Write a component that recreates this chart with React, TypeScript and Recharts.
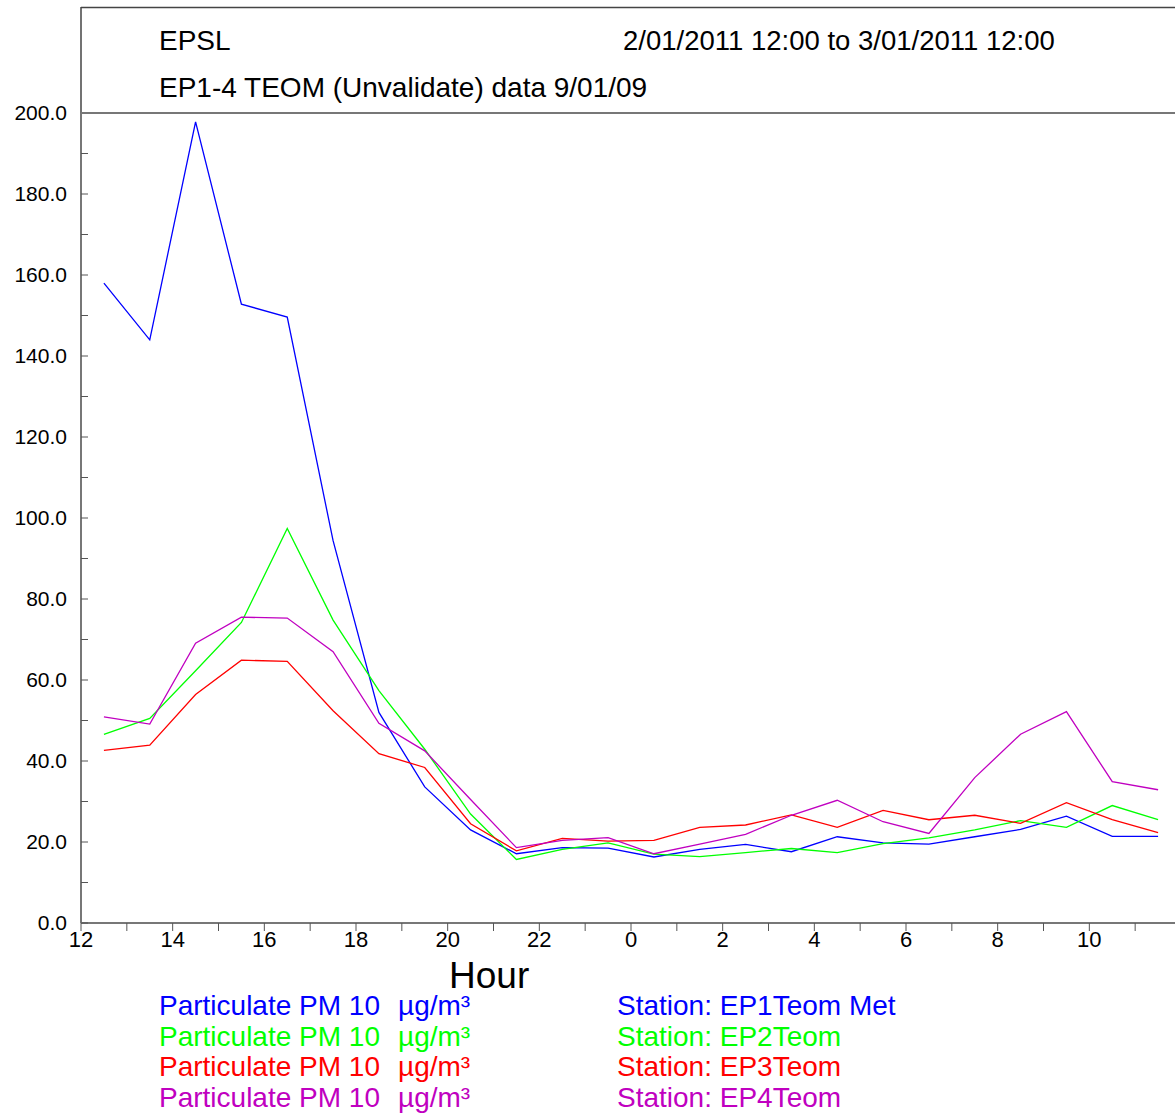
import React from 'react';
import { LineChart, Line, XAxis, YAxis } from 'recharts';

// hour of day, continuing past midnight (24 = 0, 35.5 = 11:30)
const hours = [12.5, 13.5, 14.5, 15.5, 16.5, 17.5, 18.5, 19.5, 20.5, 21.5, 22.5, 23.5,
  24.5, 25.5, 26.5, 27.5, 28.5, 29.5, 30.5, 31.5, 32.5, 33.5, 34.5, 35.5];

const ep1 = [158.0, 144.0, 197.8, 152.8, 149.6, 94.4, 52.0, 33.6, 23.0, 17.1, 18.6, 18.5,
  16.3, 18.2, 19.4, 17.6, 21.3, 19.8, 19.5, 21.3, 23.1, 26.4, 21.4, 21.4];
const ep2 = [46.6, 50.5, 62.3, 74.2, 97.4, 74.8, 57.4, 42.9, 26.9, 15.7, 18.2, 19.8,
  17.0, 16.4, 17.4, 18.4, 17.4, 19.6, 21.0, 23.0, 25.3, 23.6, 29.0, 25.5];
const ep3 = [42.6, 43.9, 56.4, 64.9, 64.6, 52.4, 41.8, 38.4, 24.5, 17.8, 20.9, 20.2,
  20.4, 23.6, 24.2, 26.7, 23.6, 27.8, 25.5, 26.6, 24.6, 29.7, 25.5, 22.3];
const ep4 = [50.9, 49.1, 69.1, 75.5, 75.3, 67.0, 49.3, 42.5, 30.5, 18.6, 20.4, 21.1,
  17.1, 19.5, 21.9, 26.6, 30.3, 25.0, 22.1, 35.9, 46.6, 52.2, 34.9, 32.9];

const xTicks = [12, 13, 14, 15, 16, 17, 18, 19, 20, 21, 22, 23, 24, 25, 26, 27, 28, 29, 30,
  31, 32, 33, 34, 35, 36];
const yTicks = [0, 10, 20, 30, 40, 50, 60, 70, 80, 90, 100, 110, 120, 130, 140, 150, 160,
  170, 180, 190, 200];

const stations = ['EP1Teom Met', 'EP2Teom', 'EP3Teom', 'EP4Teom'];
const colors = ['#0000ff', '#00ff00', '#ff0000', '#c000c0'];

const data = hours.map((h, i) => ({ hour: h, ep1: ep1[i], ep2: ep2[i], ep3: ep3[i], ep4: ep4[i] }));

const font = '"Liberation Sans", Arial, sans-serif';
const axisColor = '#777';

export default function App() {
  return (
    <div style={{ position: 'absolute', left: 0, top: 0, width: 1175, height: 1114, overflow: 'hidden', background: '#fff', fontFamily: font }}>
      <LineChart width={1181} height={1114} data={data} margin={{ top: 113, right: 0, left: 0, bottom: 161 }}>
        <XAxis
          dataKey="hour"
          type="number"
          domain={[12, 36]}
          ticks={xTicks}
          interval={0}
          height={30}
          tickSize={8}
          tickMargin={0}
          tickFormatter={(v: number) => (v % 2 === 0 && v < 36 ? String(v % 24) : '')}
          axisLine={{ stroke: axisColor, strokeWidth: 2 }}
          tickLine={{ stroke: '#555' }}
          tick={{ fill: '#000', fontSize: 22, fontFamily: font }}
        />
        <YAxis
          domain={[0, 200]}
          ticks={yTicks}
          interval={0}
          width={81}
          tickSize={-7}
          tickMargin={21}
          tickFormatter={(v: number) => (v % 20 === 0 ? v.toFixed(1) : '')}
          axisLine={{ stroke: axisColor, strokeWidth: 2 }}
          tickLine={{ stroke: '#555' }}
          tick={{ fill: '#000', fontSize: 21, fontFamily: font }}
        />
        <YAxis
          yAxisId="r"
          orientation="right"
          domain={[0, 200]}
          ticks={yTicks}
          interval={0}
          width={0}
          tickSize={-7}
          tickFormatter={() => ''}
          axisLine={{ stroke: axisColor, strokeWidth: 2 }}
          tickLine={{ stroke: '#555' }}
        />
        <Line dataKey="ep1" stroke={colors[0]} strokeWidth={1.3} dot={false} isAnimationActive={false} />
        <Line dataKey="ep2" stroke={colors[1]} strokeWidth={1.3} dot={false} isAnimationActive={false} />
        <Line dataKey="ep3" stroke={colors[2]} strokeWidth={1.3} dot={false} isAnimationActive={false} />
        <Line dataKey="ep4" stroke={colors[3]} strokeWidth={1.3} dot={false} isAnimationActive={false} />
      </LineChart>

      {/* header box, titles, axis name and the colour key */}
      <svg width={1175} height={1114} style={{ position: 'absolute', left: 0, top: 0, pointerEvents: 'none' }} fontFamily={font}>
        <line x1={81} y1={7.5} x2={1175} y2={7.5} stroke="#444" strokeWidth={1.5} />
        <line x1={81} y1={7} x2={81} y2={113} stroke="#444" strokeWidth={1.5} />
        <line x1={81} y1={113} x2={1175} y2={113} stroke={axisColor} strokeWidth={2} />
        <text x={159} y={50} fontSize={28} fill="#000">EPSL</text>
        <text x={623} y={50} fontSize={27.5} fill="#000">2/01/2011 12:00 to 3/01/2011 12:00</text>
        <text x={159} y={97} fontSize={28} fill="#000">EP1-4 TEOM (Unvalidate) data 9/01/09</text>
        <text x={449} y={988} fontSize={37} fill="#000">Hour</text>
        {stations.map((s, i) => (
          <g key={s} fill={colors[i]} fontSize={28}>
            <text x={159} y={1015 + i * 30.6}>Particulate PM 10</text>
            <text x={398} y={1015 + i * 30.6}>µg/m³</text>
            <text x={617} y={1015 + i * 30.6}>Station: {s}</text>
          </g>
        ))}
      </svg>
    </div>
  );
}
